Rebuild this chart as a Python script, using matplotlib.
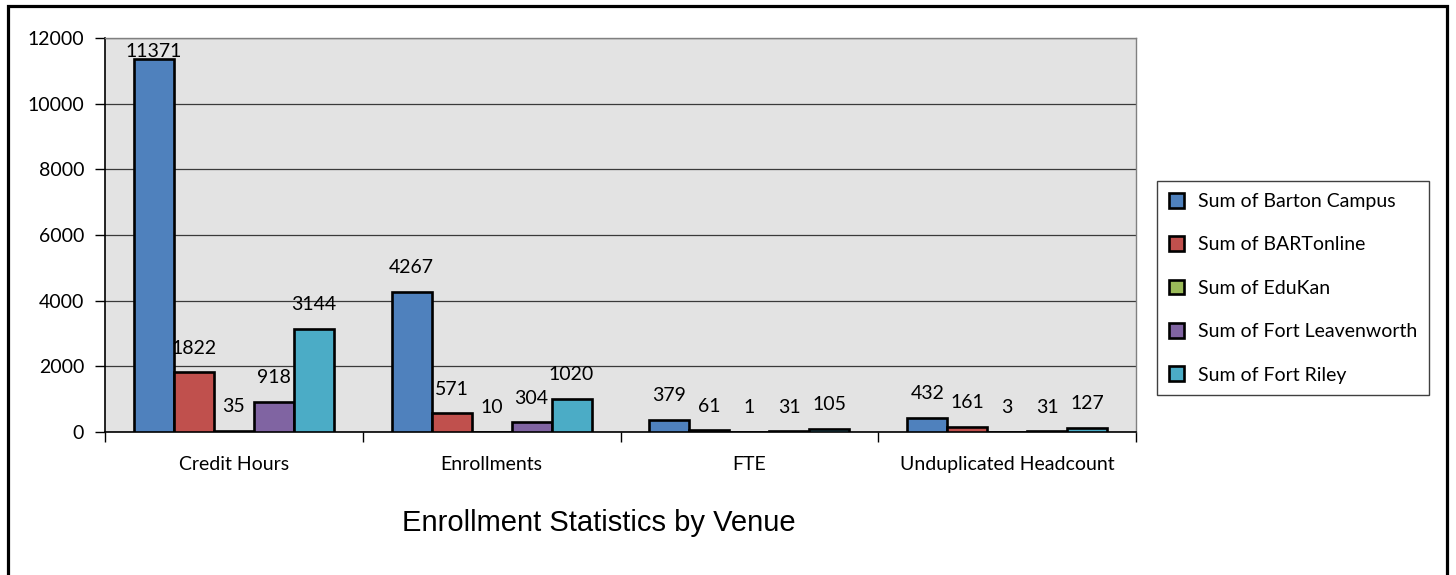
#!/usr/bin/env python

import numpy as np
import matplotlib.pyplot as plt
from matplotlib.patches import Rectangle

# ----------------------------------------------------------------------
# Data
# ----------------------------------------------------------------------

categories = ['Credit Hours', 'Enrollments', 'FTE', 'Unduplicated Headcount']
series = ['Sum of Barton Campus', 'Sum of BARTonline', 'Sum of EduKan',
          'Sum of Fort Leavenworth', 'Sum of Fort Riley']
barton = [11371, 4267, 379, 432]
bartonline = [1822, 571, 61, 161]
edukan = [35, 10, 1, 3]
leavenworth = [918, 304, 31, 31]
riley = [3144, 1020, 105, 127]
yticks = [0, 2000, 4000, 6000, 8000, 10000, 12000]
title = 'Enrollment Statistics by Venue'

colors = ['#4F81BD', '#C0504D', '#9BBB59', '#8064A2', '#4BACC6']

# ----------------------------------------------------------------------
# Plot
# ----------------------------------------------------------------------

if __name__ == "__main__":

    plt.rcParams['font.family'] = ['Lato', 'DejaVu Sans']
    fs = 14

    W, H = 1456, 575
    fig = plt.figure(figsize=(W/100, H/100), dpi=100)

    # outer frame (bottom edge runs off the canvas)
    fig.patches.append(Rectangle((7.5/W, -0.05), (1447 - 7.5)/W, 1.05 - 5.5/H,
                                 transform=fig.transFigure, fill=False,
                                 edgecolor='black', linewidth=2.3))

    ax = fig.add_axes([105/W, 1 - 432/H, (1136 - 105)/W, (432 - 38)/H])
    ax.set_facecolor('#E3E3E3')

    x = np.arange(len(categories))
    width = 0.155
    data = [barton, bartonline, edukan, leavenworth, riley]

    for i, vals in enumerate(data):
        pos = x + (i - 2)*width
        ax.bar(pos, vals, width, color=colors[i], edgecolor='black',
               linewidth=1.9, label=series[i], zorder=3)
        for px, v in zip(pos, vals):
            # label ~24px above bar, pushed down if it would leave the plot
            y = min(v + 730, 11580)
            ax.text(px, y, str(v), ha='center', va='center', fontsize=fs,
                    zorder=4)

    ax.set_xlim(-0.5, len(categories) - 0.5)
    ax.set_ylim(0, 12000)
    ax.set_yticks(yticks)
    ax.yaxis.grid(True, color='#3a3a3a', linewidth=0.9, zorder=1)
    ax.set_axisbelow(True)

    # category boundaries as major ticks, names on minor ticks
    ax.set_xticks(np.arange(len(categories) + 1) - 0.5)
    ax.set_xticklabels([])
    ax.set_xticks(x, minor=True)
    ax.set_xticklabels(categories, minor=True)
    ax.tick_params(axis='x', which='major', length=7, width=1, direction='out')
    ax.tick_params(axis='x', which='minor', length=0, pad=17, labelsize=fs)
    ax.tick_params(axis='y', length=7, width=1, labelsize=fs, pad=8)

    for s in ['top', 'right']:
        ax.spines[s].set_color('#808080')
        ax.spines[s].set_linewidth(1)
    for s in ['left', 'bottom']:
        ax.spines[s].set_color('black')
        ax.spines[s].set_linewidth(1.2)

    handles, labels = ax.get_legend_handles_labels()
    leg = fig.legend(handles, labels, loc='upper left',
                     bbox_to_anchor=(1157/W, 1 - 181/H), fontsize=fs,
                     frameon=True, fancybox=False, framealpha=1,
                     edgecolor='#404040', handlelength=0.8, handleheight=0.8,
                     labelspacing=1.35, borderpad=0.6, handletextpad=0.7,
                     borderaxespad=0)
    leg.get_frame().set_linewidth(1)

    fig.text(599/W, 1 - 523/H, title, ha='center', va='center', fontsize=21,
             family=['Liberation Sans', 'DejaVu Sans'])

    fig.savefig('out.png', dpi=100)
